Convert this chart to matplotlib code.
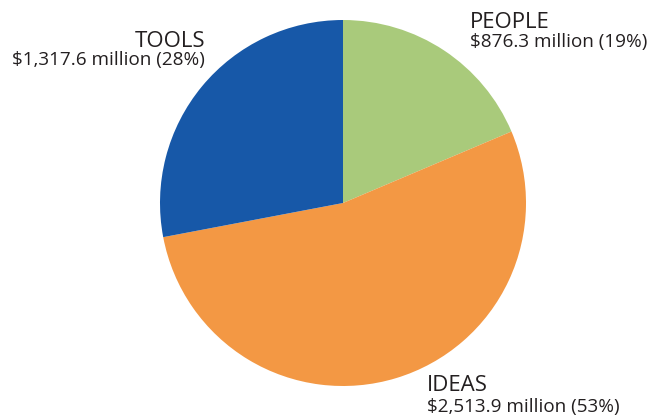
import matplotlib.pyplot as plt

categories = ['PEOPLE', 'IDEAS', 'TOOLS']
values = [876.3, 2513.9, 1317.6]
percents = [19, 53, 28]
colors = ['#A9CA7B', '#F39844', '#1758A8']

W, H = 661, 417
fig = plt.figure(figsize=(W / 100, H / 100), dpi=100)

# pie centre and radius in pixels
cx, cy, r = 343, 203, 183
ax = fig.add_axes([(cx - r) / W, 1 - (cy + r) / H, 2 * r / W, 2 * r / H])
ax.pie(values, colors=colors, startangle=90, counterclock=False,
       radius=1, wedgeprops=dict(linewidth=0))
ax.set_xlim(-1, 1)
ax.set_ylim(-1, 1)
ax.set_aspect('equal')
ax.axis('off')

font = 'Open Sans'
txt_color = '#231F20'

# label positions: (x px, baseline of first line, baseline of second line, align)
label_pos = {
    'PEOPLE': (470, 28, 47, 'left'),
    'IDEAS': (427, 391, 412, 'left'),
    'TOOLS': (205, 47, 65, 'right'),
}

for name, val, pct in zip(categories, values, percents):
    x, y1, y2, ha = label_pos[name]
    fig.text(x / W, 1 - y1 / H, name, ha=ha, va='baseline',
             fontsize=16, family=font, color=txt_color)
    fig.text(x / W, 1 - y2 / H, f'${val:,.1f} million ({pct}%)', ha=ha,
             va='baseline', fontsize=13.6, family=font, color=txt_color)

fig.savefig('out.png', dpi=100)
